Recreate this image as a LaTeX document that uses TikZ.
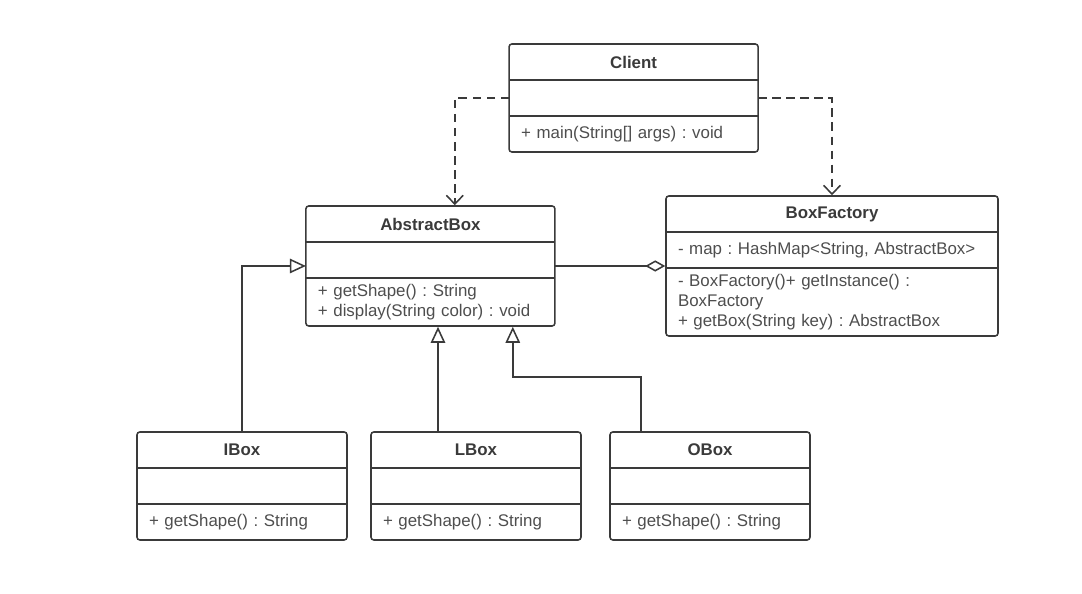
\documentclass[tikz,border=0pt]{standalone}
\usepackage{fontspec}
\setmainfont{Liberation Sans}
\usetikzlibrary{positioning,arrows.meta,fit}
\definecolor{umlline}{HTML}{3A3A3A}
\definecolor{umltext}{HTML}{4E4E4E}
\frenchspacing

\begin{document}
\begin{tikzpicture}[
    font=\fontsize{12}{14}\selectfont,
    node distance=0pt,
    classname/.style={rectangle, outer sep=0pt, minimum height=0.9cm, font=\fontsize{12}{14}\selectfont\bfseries, text=umlline},
    classpart/.style={rectangle, outer sep=0pt, minimum height=0.9cm, inner xsep=0.3cm, align=left, text=umltext},
    frame/.style={rectangle, draw=umlline, line width=1.1pt, rounded corners=2pt, inner sep=0pt},
    divider/.style={draw=umlline, line width=1.1pt},
    dep/.style={-{Straight Barb[length=2.2mm, width=4.2mm]}, dash pattern=on 6pt off 4pt, line width=1.1pt, umlline},
    inherit/.style={-{Triangle[open, length=4mm, width=3.6mm, fill=white]}, line width=1.1pt, umlline},
    aggr/.style={-{Diamond[open, length=5mm, width=2.8mm, fill=white]}, line width=1.1pt, umlline}
]
\useasboundingbox (0,0) rectangle (27.05,14.85);

\node[classname, minimum width=6.225cm, anchor=north] (clientname) at (15.84,13.75) {Client};
\node[classpart, text width=5.625cm, below=of clientname] (clientattr) {};
\node[classpart, text width=5.625cm, below=of clientattr] (clientops) {+ main(String[] args) : void};

\node[classname, minimum width=6.225cm, anchor=north] (absname) at (10.76,9.7) {AbstractBox};
\node[classpart, text width=5.625cm, below=of absname] (absattr) {};
\node[classpart, text width=5.625cm, minimum height=1.2cm, below=of absattr] (absops) {+ getShape() : String\\+ display(String color) : void};

\node[classname, minimum width=8.3cm, anchor=north] (bfname) at (20.8,9.95) {BoxFactory};
\node[classpart, text width=7.7cm, below=of bfname] (bfattr) {- map : HashMap<String, AbstractBox>};
\node[classpart, text width=7.7cm, minimum height=1.7cm, below=of bfattr] (bfops) {- BoxFactory()+ getInstance() :\\BoxFactory\\+ getBox(String key) : AbstractBox};

\node[classname, minimum width=5.25cm, anchor=north] (iname) at (6.05,4.05) {IBox};
\node[classpart, text width=4.65cm, below=of iname] (iattr) {};
\node[classpart, text width=4.65cm, below=of iattr] (iops) {+ getShape() : String};

\node[classname, minimum width=5.25cm, anchor=north] (lname) at (11.9,4.05) {LBox};
\node[classpart, text width=4.65cm, below=of lname] (lattr) {};
\node[classpart, text width=4.65cm, below=of lattr] (lops) {+ getShape() : String};

\node[classname, minimum width=5cm, anchor=north] (oname) at (17.75,4.05) {OBox};
\node[classpart, text width=4.4cm, below=of oname] (oattr) {};
\node[classpart, text width=4.4cm, below=of oattr] (oops) {+ getShape() : String};

% frames and dividers
\foreach \c/\n/\o in {client/clientname/clientops, abs/absname/absops, bf/bfname/bfops,
                      ibox/iname/iops, lbox/lname/lops, obox/oname/oops}
  \node[frame, fit=(\n)(\o)] (\c) {};
\foreach \a in {clientattr, absattr, bfattr, iattr, lattr, oattr} {
  \draw[divider] (\a.north west) -- (\a.north east);
  \draw[divider] (\a.south west) -- (\a.south east);
}

% dependencies of the client
\draw[dep] (clientattr.west) -| ([xshift=0.61cm]abs.north);
\draw[dep] (clientattr.east) -| (bf.north);

% aggregation
\coordinate (aggrstart) at ([yshift=-0.15cm]absattr.east);
\draw[aggr] (aggrstart) -- (aggrstart -| bf.west);

% inheritance
\coordinate (ihead) at ([yshift=-0.15cm]absattr.west);
\draw[inherit] (ibox.north) |- (ihead);
\coordinate (lhead) at ([xshift=0.19cm]abs.south);
\draw[inherit] (lhead |- lbox.north) -- (lhead);
\coordinate (ohead) at ([xshift=2.06cm]abs.south);
\coordinate (ofoot) at ([xshift=-1.725cm]obox.north);
\draw[inherit] (ofoot) -- ++(0,1.35) -| (ohead);

\end{tikzpicture}
\end{document}
